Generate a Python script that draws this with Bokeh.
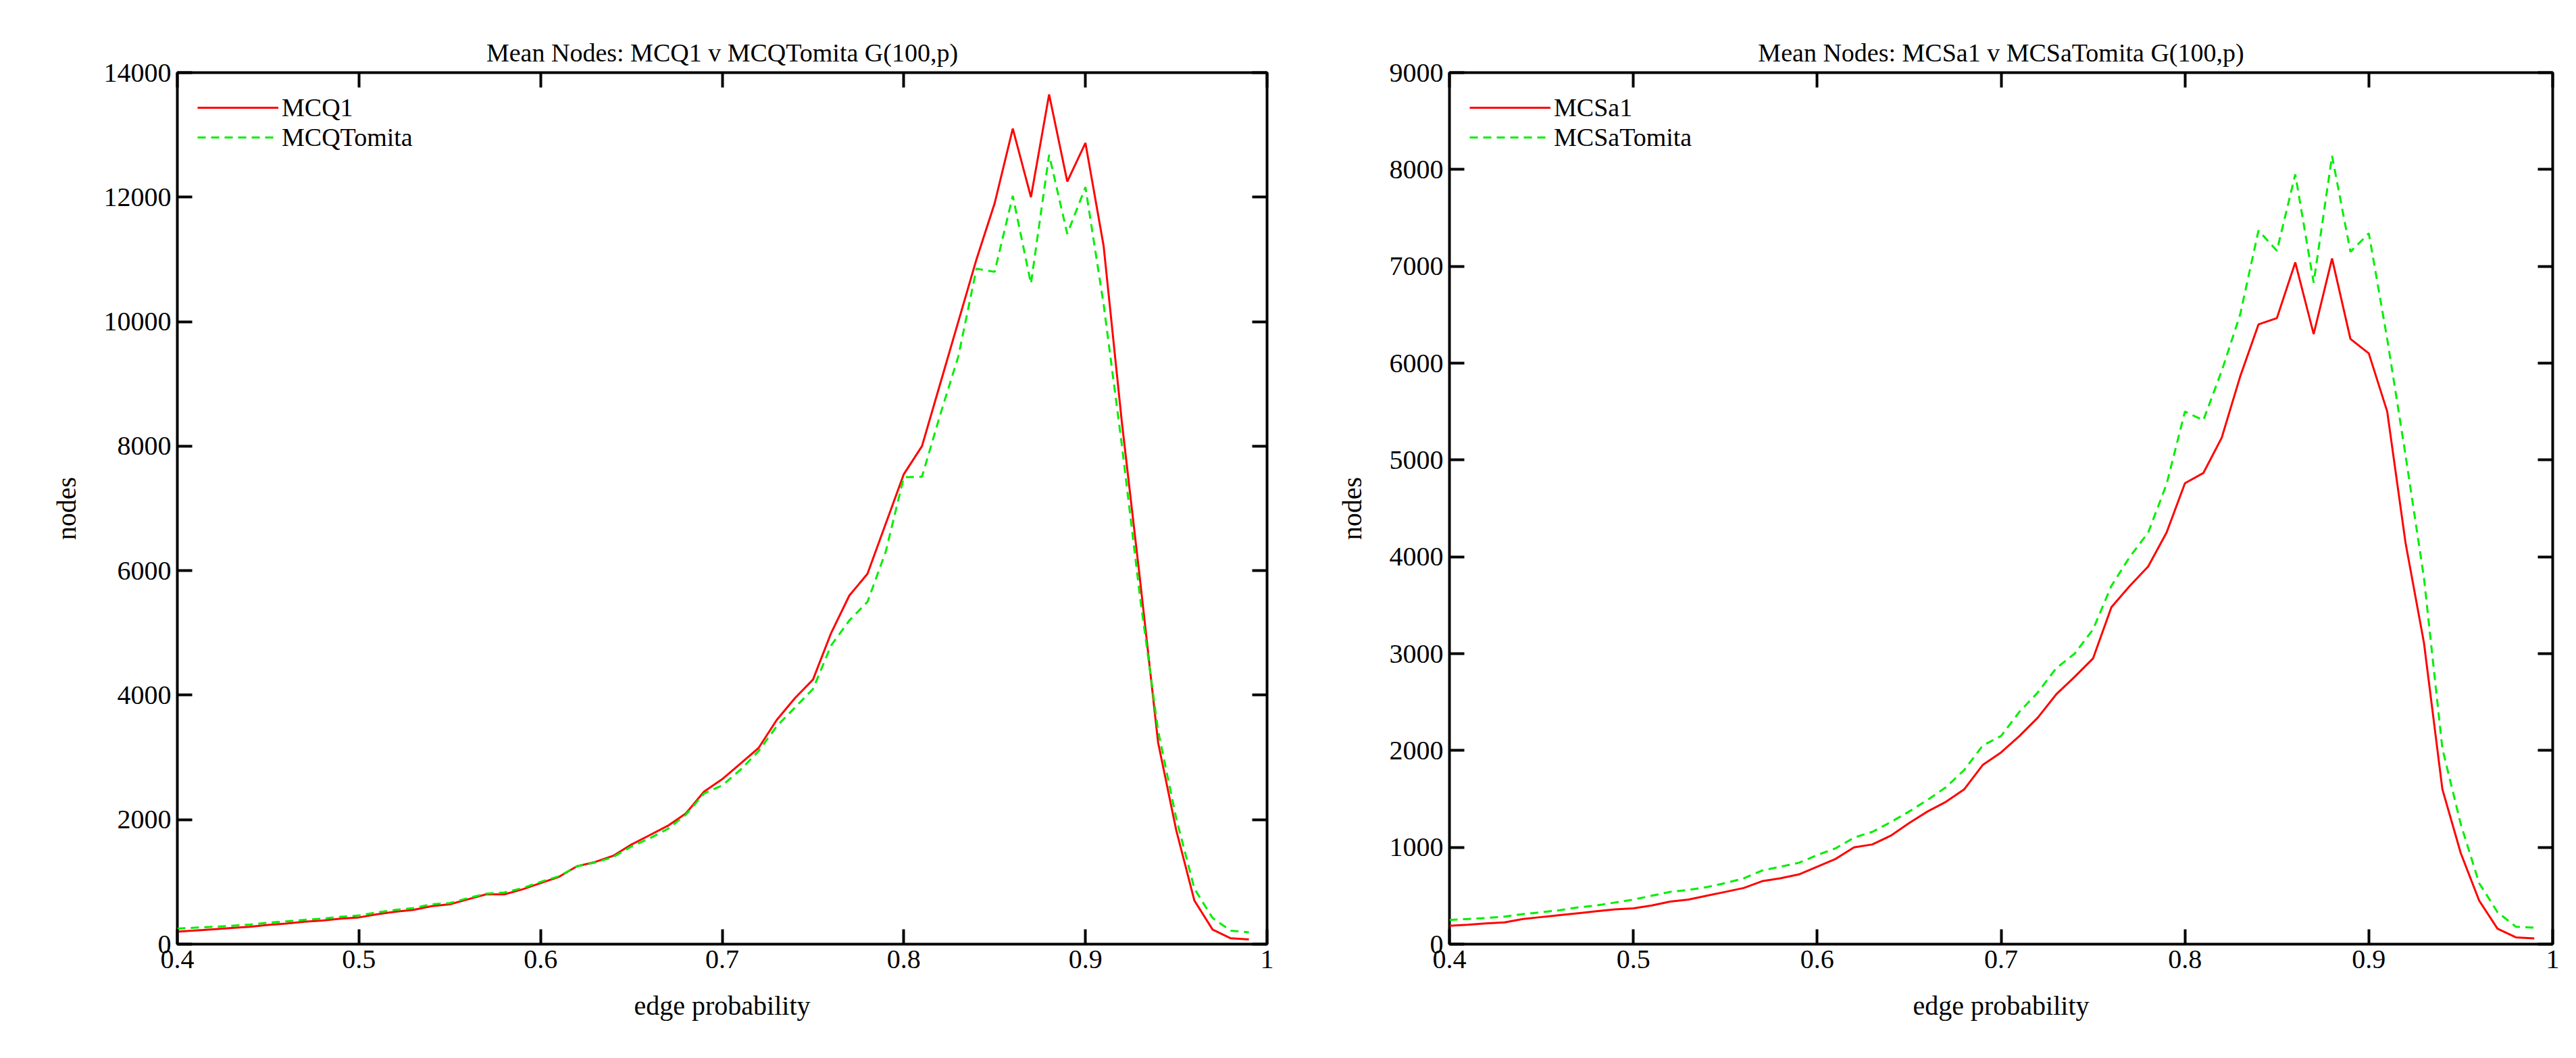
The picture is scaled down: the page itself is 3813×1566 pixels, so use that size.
from bokeh.plotting import figure
from bokeh.layouts import row
from bokeh.models import LinearAxis, Legend, LegendItem, Range1d, SingleIntervalTicker
from bokeh.embed import file_html
from bokeh.resources import INLINE

p_vals = [round(0.40 + 0.01 * i, 2) for i in range(60)]

mcq1 = [200, 220, 240, 260, 280, 310, 330, 360, 380, 410,
        430, 480, 520, 550, 610, 640, 720, 800, 800, 880,
        980, 1080, 1250, 1320, 1420, 1600, 1750, 1900, 2100, 2450,
        2650, 2900, 3150, 3600, 3950, 4250, 5000, 5600, 5950, 6750,
        7550, 8000, 9000, 10000, 11000, 11900, 13100, 12000, 13650, 12250,
        12870, 11220, 8400, 5870, 3240, 1830, 700, 235, 94, 75]
mcqtomita = [250, 265, 280, 295, 315, 345, 365, 390, 410, 440,
             460, 510, 550, 580, 640, 660, 740, 810, 830, 900,
             1000, 1090, 1250, 1310, 1400, 1570, 1700, 1850, 2080, 2420,
             2550, 2800, 3100, 3500, 3800, 4100, 4800, 5200, 5500, 6300,
             7500, 7510, 8500, 9440, 10850, 10800, 12020, 10610, 12680, 11410,
             12160, 10280, 8030, 5590, 3430, 2020, 890, 420, 216, 190]

mcsa1 = [190, 200, 215, 225, 260, 280, 300, 320, 340, 360,
         370, 400, 440, 460, 500, 540, 580, 650, 680, 720,
         800, 880, 1000, 1030, 1120, 1250, 1370, 1470, 1600, 1850,
         1980, 2150, 2340, 2580, 2760, 2950, 3480, 3700, 3900, 4250,
         4760, 4865, 5230, 5860, 6400, 6465, 7040, 6300, 7080, 6250,
         6100, 5500, 4140, 3110, 1600, 940, 450, 160, 70, 60]
mcsatomita = [250, 260, 270, 285, 310, 330, 350, 380, 400, 430,
              460, 500, 540, 560, 590, 630, 680, 760, 800, 840,
              920, 990, 1100, 1160, 1260, 1370, 1490, 1620, 1800, 2050,
              2150, 2400, 2600, 2850, 3000, 3250, 3700, 4000, 4250, 4750,
              5500, 5410, 5920, 6500, 7370, 7160, 7950, 6830, 8140, 7150,
              7340, 6250, 5045, 3780, 2020, 1240, 630, 330, 180, 170]

FONT = "Liberation Serif"


def make(title, ymax, ystep, ya, yb, na, nb, mb):
    p = figure(width=1895, height=1540, output_backend="svg", toolbar_location=None,
               x_range=Range1d(0.4, 1.0), y_range=Range1d(0, ymax),
               min_border_left=mb[0], min_border_right=mb[1],
               min_border_top=mb[2], min_border_bottom=mb[3])
    p.title.text = title
    p.title.align = "center"
    p.title.text_font = FONT
    p.title.text_font_style = "normal"
    p.title.text_font_size = "38px"
    p.title.text_color = "black"
    p.grid.visible = False
    p.outline_line_color = "black"
    p.outline_line_width = 4
    p.xaxis.ticker = SingleIntervalTicker(interval=0.1)
    p.yaxis.ticker = SingleIntervalTicker(interval=ystep)
    p.xaxis.axis_label = "edge probability"
    p.yaxis.axis_label = "nodes"
    for ax in list(p.xaxis) + list(p.yaxis):
        ax.axis_line_color = None
        ax.major_tick_in = 22
        ax.major_tick_out = 0
        ax.major_tick_line_width = 4
        ax.minor_tick_line_color = None
        ax.major_label_text_font = FONT
        ax.major_label_text_font_size = "40px"
        ax.major_label_text_color = "black"
        ax.axis_label_text_font = FONT
        ax.axis_label_text_font_size = "40px"
        ax.axis_label_text_color = "black"
        ax.axis_label_text_font_style = "normal"
        ax.axis_label_standoff = 30
    p.xaxis.major_label_overrides = {1.0: "1"}
    for loc, tk in (("right", SingleIntervalTicker(interval=ystep)),
                    ("above", SingleIntervalTicker(interval=0.1))):
        ax = LinearAxis(ticker=tk, major_label_text_font_size="0px",
                        axis_line_color=None, major_tick_in=22, major_tick_out=0,
                        major_tick_line_width=4, minor_tick_line_color=None)
        p.add_layout(ax, loc)
    r1 = p.line(p_vals, ya, line_color="#ff0000", line_width=3)
    r2 = p.line(p_vals, yb, line_color="#00ee00", line_width=3, line_dash="12 8")
    leg = Legend(items=[LegendItem(label=na, renderers=[r1]), LegendItem(label=nb, renderers=[r2])],
                 location="top_left", border_line_color=None, background_fill_alpha=0,
                 label_text_font=FONT, label_text_font_size="38px", label_text_color="black",
                 glyph_width=120, spacing=0, padding=10, margin=30, label_height=34, glyph_height=34)
    p.add_layout(leg)
    return p


p1 = make("Mean Nodes: MCQ1 v MCQTomita G(100,p)", 14000, 2000, mcq1, mcqtomita,
          "MCQ1", "MCQTomita", (262, 20, 95, 143))
p2 = make("Mean Nodes: MCSa1 v MCSaTomita G(100,p)", 9000, 1000, mcsa1, mcsatomita,
          "MCSa1", "MCSaTomita", (250, 12, 107, 131))
layout = row(p1, p2)
open("out.html", "w").write(file_html(layout, INLINE))
